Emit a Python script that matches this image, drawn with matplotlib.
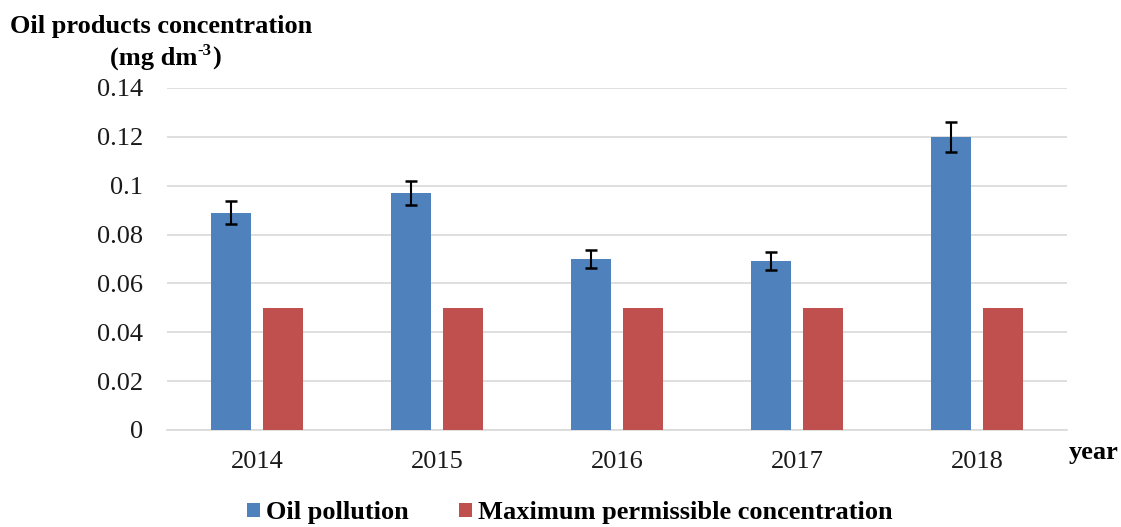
import matplotlib
matplotlib.use("Agg")
import matplotlib.pyplot as plt
import numpy as np

years = ["2014", "2015", "2016", "2017", "2018"]
oil_pollution = [0.089, 0.097, 0.070, 0.069, 0.120]
oil_err = [0.0046, 0.0049, 0.0037, 0.0037, 0.0060]
max_permissible = [0.05, 0.05, 0.05, 0.05, 0.05]

plt.rcParams['font.family'] = ['Liberation Serif', 'DejaVu Serif']

W, H = 1121, 527
fig = plt.figure(figsize=(W/100, H/100), dpi=100)
ax = fig.add_axes([167/W, 1-430/H, 900/W, (430-88)/H])

x = np.arange(len(years))
w = 0.222
off = 0.144
blue = "#4F81BD"
red = "#C0504D"
ax.bar(x - off, oil_pollution, w, color=blue, zorder=3, label="Oil pollution",
       yerr=oil_err, error_kw=dict(ecolor="black", elinewidth=1.5, capsize=4.5, capthick=1.8, zorder=4))
ax.bar(x + off, max_permissible, w, color=red, zorder=3, label="Maximum permissible concentration")

ax.set_xlim(-0.5, len(years) - 0.5)
ax.set_ylim(0, 0.14)
ax.set_yticks(np.arange(0, 0.141, 0.02))
ax.set_yticklabels(["0", "0.02", "0.04", "0.06", "0.08", "0.1", "0.12", "0.14"])
ax.set_xticks(x)
ax.set_xticklabels(years)
ax.tick_params(axis='both', length=0, labelsize=19, colors="#1a1a1a")
ax.tick_params(axis='y', pad=17)
ax.tick_params(axis='x', pad=15)
ax.grid(axis='y', color="#D9D9D9", linewidth=1.2, zorder=0)
for s in ["top", "right", "left"]:
    ax.spines[s].set_visible(False)
ax.spines["bottom"].set_color("#D9D9D9")
ax.spines["bottom"].set_linewidth(1.2)

fig.text(10/W, 1-27/H, "Oil products concentration", fontsize=19, fontweight="bold", va="center", ha="left")

# "(mg dm^-3)" built from pieces so the superscript stays a small raised hyphen-3
renderer = fig.canvas.get_renderer()
t1 = fig.text(110/W, 1-58/H, "(mg dm", fontsize=19, fontweight="bold", va="center", ha="left")
bb1 = t1.get_window_extent(renderer)
t2 = fig.text(bb1.x1/W + 0.5/W, 1-51/H, "-3", fontsize=12, fontweight="bold", va="center", ha="left")
bb2 = t2.get_window_extent(renderer)
fig.text(bb2.x1/W, 1-58/H, ")", fontsize=19, fontweight="bold", va="center", ha="left")

fig.text(1094/W, 1-452/H, "year", fontsize=19, fontweight="bold", va="center", ha="center")

leg = fig.legend(loc="center", bbox_to_anchor=(570/W, 1-513/H), ncol=2, frameon=False,
                 prop=dict(size=19, weight="bold"), handlelength=0.47, handleheight=0.47,
                 handletextpad=0.25, columnspacing=1.9)

fig.savefig("out.png", dpi=100)
